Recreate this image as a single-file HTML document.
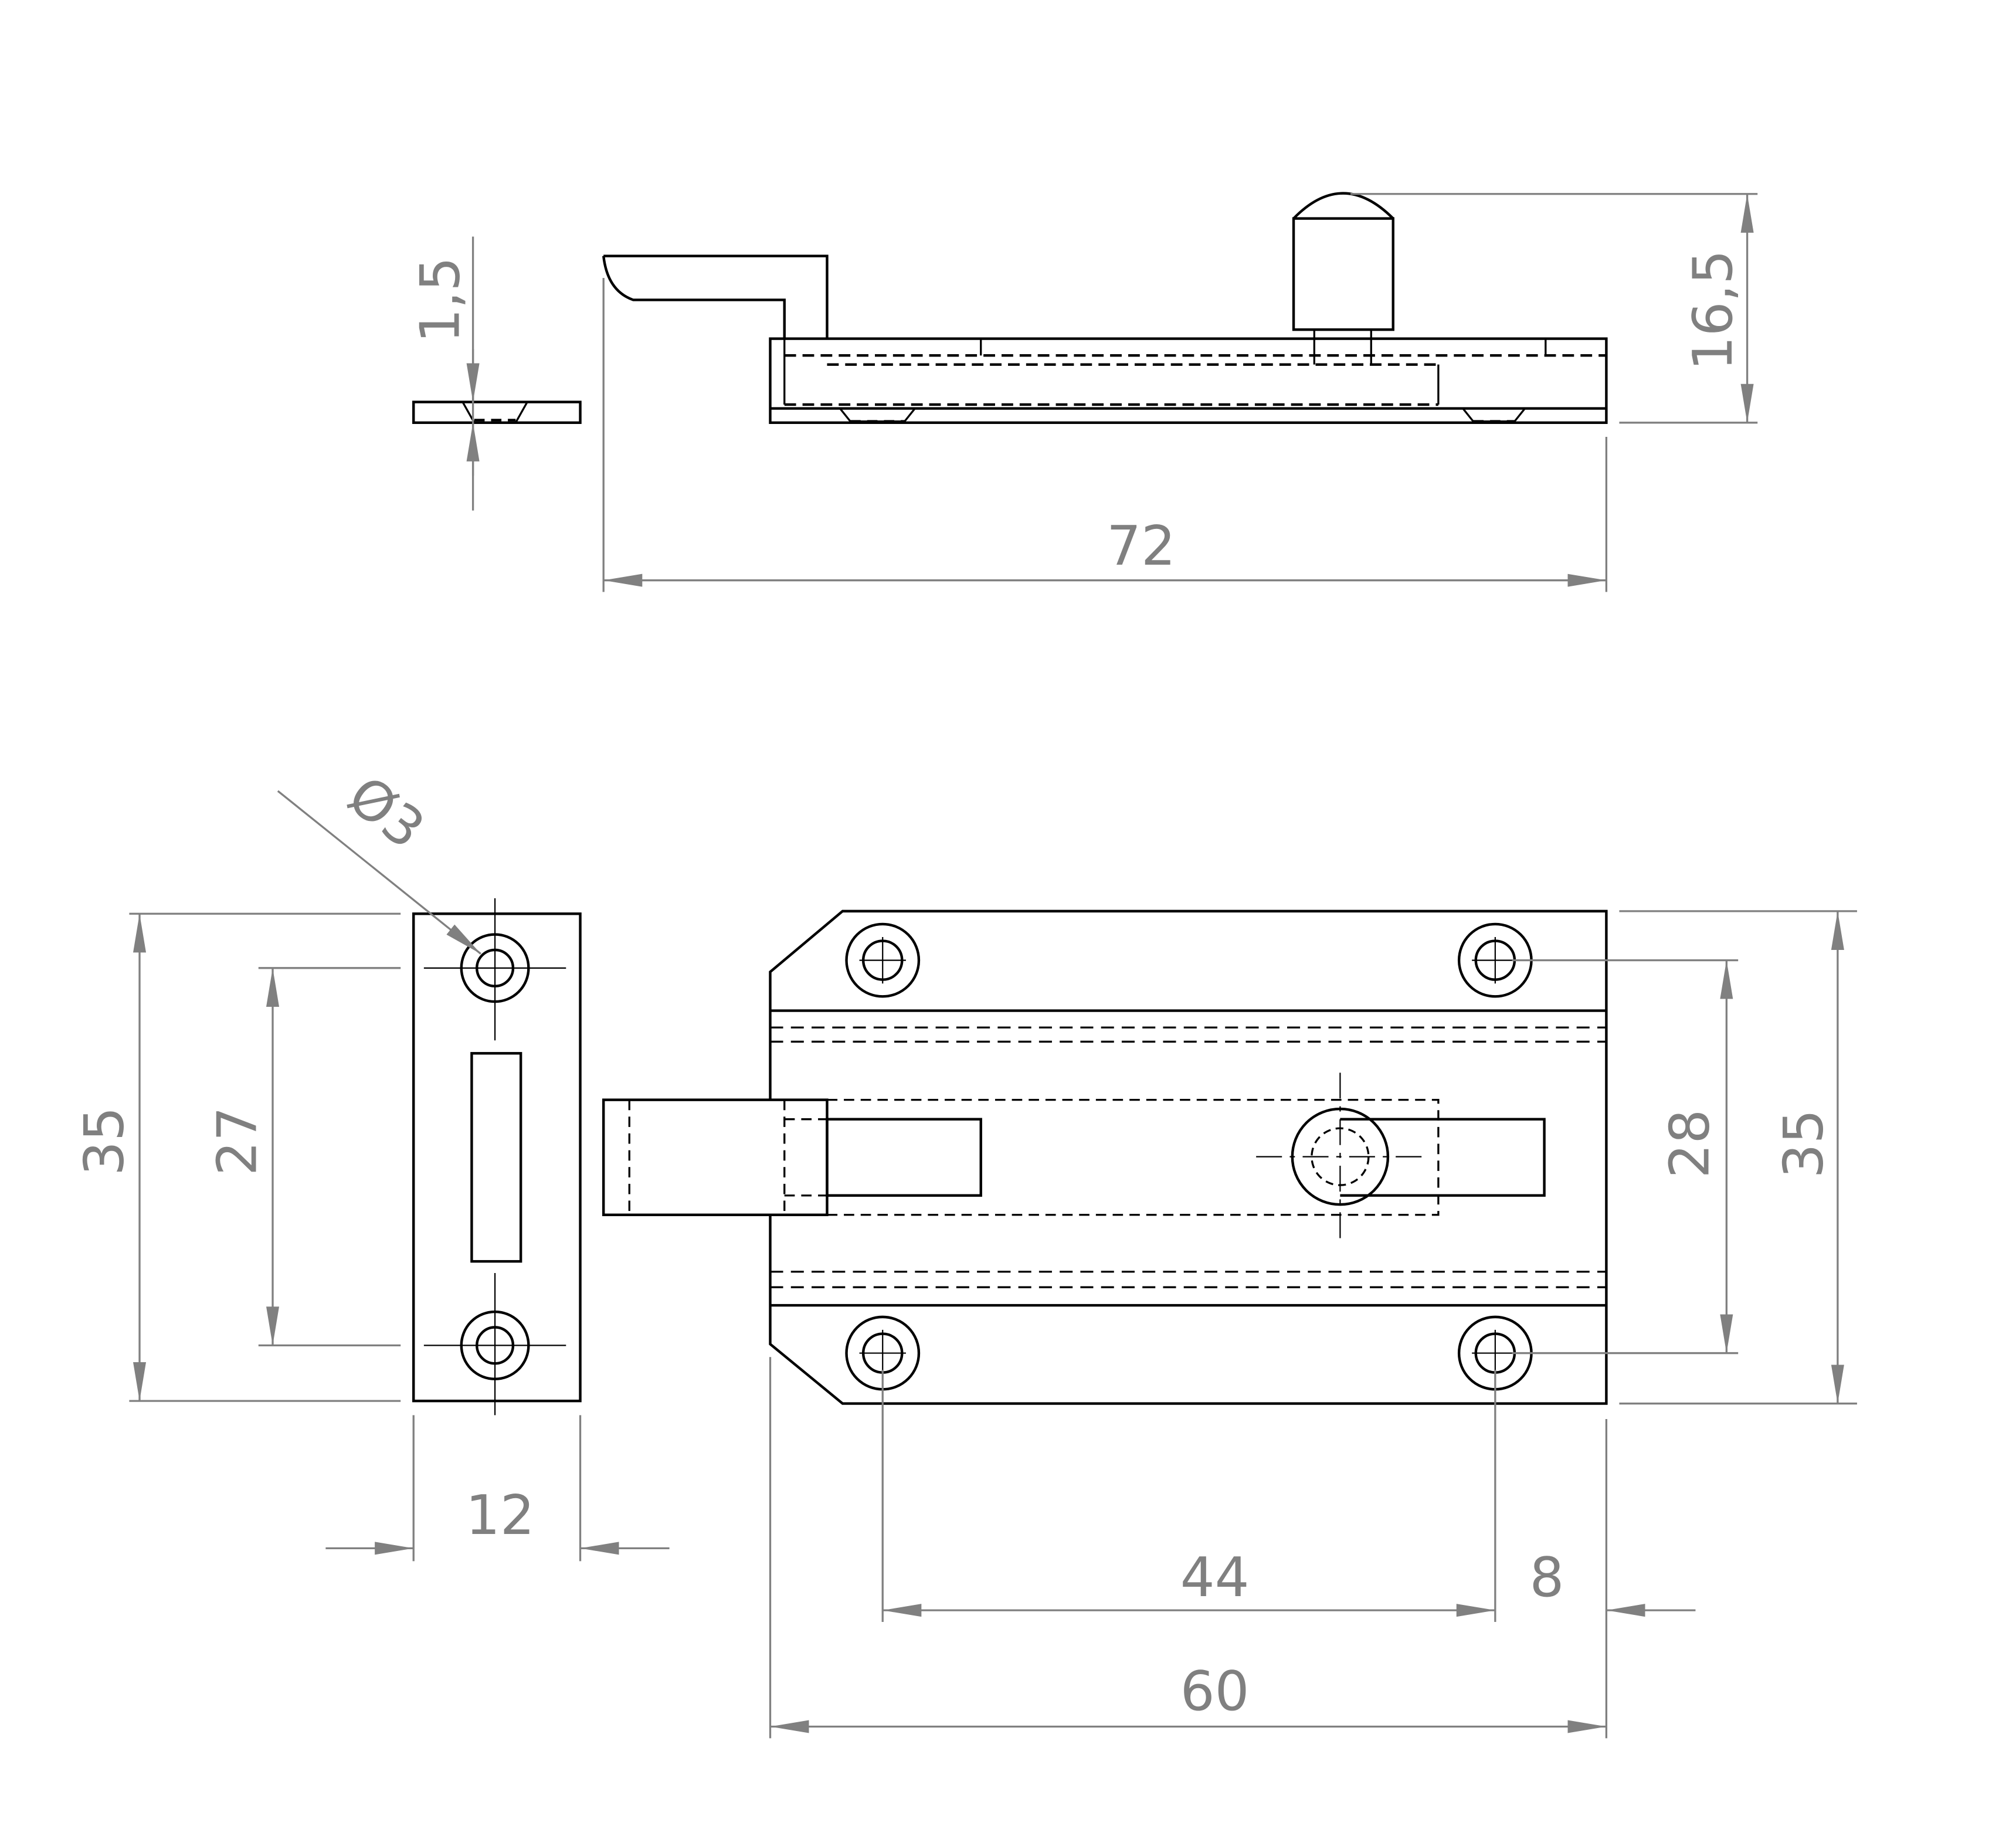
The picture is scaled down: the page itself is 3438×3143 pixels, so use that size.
<!DOCTYPE html>
<html><head><meta charset="utf-8"><style>
html,body{margin:0;padding:0;background:#fff;}
svg{display:block;}
text{font-family:"DejaVu Sans","Liberation Sans",sans-serif;fill:#808080;font-size:42px;}
</style></head><body>
<svg width="3438" height="3143" viewBox="0 0 1560 1426" xmlns="http://www.w3.org/2000/svg">
<defs>
<marker id="a" viewBox="0 0 30 10" refX="30" refY="5" markerWidth="30" markerHeight="10" markerUnits="userSpaceOnUse" orient="auto-start-reverse"><path d="M0,0 L30,5 L0,10 z" fill="#808080"/></marker>
</defs>
<g fill="none" stroke="#000" stroke-width="2">
<!-- small plate side -->
<rect x="320" y="311" width="129" height="16"/>
<path d="M358,311 L367,327 M408,311 L399,327" stroke-width="1.5"/>
<path d="M367,325 L399,325" stroke-dasharray="8,5"/>
<!-- hook -->
<path d="M467,198 L640,198 L640,262 M607,262 L607,232 L490,232 Q470,225 467,198"/>
<!-- base side -->
<rect x="596" y="262" width="647" height="65"/>
<line x1="596" y1="316" x2="1243" y2="316"/>
<path d="M607,275 L1243,275 M640,282 L1113,282 M607,313 L1113,313" stroke-dasharray="9,5"/>
<path d="M1113,282 L1113,313 M607,262 L607,313 M759,262 L759,275 M1196,262 L1196,275 M1017,255 L1017,282 M1061,255 L1061,282" stroke-width="1.5"/>
<path d="M650,316 L658,326 L700,326 L708,316 M1132,316 L1140,326 L1172,326 L1180,316" stroke-width="1.5"/>
<path d="M658,326 L700,326 M1140,326 L1172,326" stroke-dasharray="8,5"/>
<rect x="1001" y="169" width="77" height="86"/>
<path d="M1001,169 Q1039,130 1078,169"/>
<!-- strike plate front -->
<rect x="320" y="707" width="129" height="377"/>
<circle cx="383" cy="749" r="26"/><circle cx="383" cy="749" r="14"/>
<circle cx="383" cy="1041" r="26"/><circle cx="383" cy="1041" r="14"/>
<rect x="365" y="815" width="38" height="161"/>
<path d="M383,695 V805 M328,749 H438 M383,985 V1095 M328,1041 H438" stroke-width="1"/>
<!-- base front -->
<path d="M652,705 L1243,705 L1243,1086 L652,1086 L596,1040 L596,752 Z"/>
<path d="M596,782 H1243 M596,1010 H1243"/>
<path d="M596,795 H1243 M596,806 H1243 M596,984 H1243 M596,996 H1243" stroke-dasharray="10,6" stroke-width="1.5"/>
<circle cx="683" cy="743" r="28"/><circle cx="683" cy="743" r="15"/>
<circle cx="1157" cy="743" r="28"/><circle cx="1157" cy="743" r="15"/>
<circle cx="683" cy="1047" r="28"/><circle cx="683" cy="1047" r="15"/>
<circle cx="1157" cy="1047" r="28"/><circle cx="1157" cy="1047" r="15"/>
<path d="M683,725 V761 M665,743 H701 M1157,725 V761 M1139,743 H1175 M683,1029 V1065 M665,1047 H701 M1157,1029 V1065 M1139,1047 H1175" stroke-width="1"/>
<!-- bolt -->
<rect x="467" y="851" width="173" height="89" fill="#fff"/>
<path d="M487,851 V940 M607,851 V940 M607,866 H640 M607,925 H640 M640,851 H1113 V940 H640" stroke-dasharray="8,5" stroke-width="1.5"/>
<rect x="640" y="866" width="119" height="59"/>
<path d="M1037,866 H1195 V925 H1037"/>
<circle cx="1037" cy="895" r="37" fill="none"/>
<circle cx="1037" cy="895" r="22" stroke-dasharray="6,4" stroke-width="1.5"/>
<path d="M1037,830 V962 M972,895 H1102" stroke-dasharray="20,6,4,6" stroke-width="1"/>
</g>
<g fill="none" stroke="#808080" stroke-width="1.5">
<!-- 1,5 -->
<line x1="366" y1="183" x2="366" y2="395"/>
<line x1="366" y1="270" x2="366" y2="311" marker-end="url(#a)"/>
<line x1="366" y1="368" x2="366" y2="327" marker-end="url(#a)"/>
<!-- 16,5 -->
<path d="M1045,150 H1360 M1253,327 H1360"/>
<line x1="1352" y1="150" x2="1352" y2="327" marker-start="url(#a)" marker-end="url(#a)"/>
<!-- 72 -->
<path d="M467,215 V458 M1243,338 V458"/>
<line x1="467" y1="449" x2="1243" y2="449" marker-start="url(#a)" marker-end="url(#a)"/>
<!-- left 35/27 -->
<path d="M100,707 H310 M100,1084 H310 M200,749 H310 M200,1041 H310"/>
<line x1="108" y1="707" x2="108" y2="1084" marker-start="url(#a)" marker-end="url(#a)"/>
<line x1="211" y1="749" x2="211" y2="1041" marker-start="url(#a)" marker-end="url(#a)"/>
<!-- 12 -->
<path d="M320,1095 V1208 M449,1095 V1208"/>
<line x1="252" y1="1198" x2="320" y2="1198" marker-end="url(#a)"/>
<line x1="518" y1="1198" x2="449" y2="1198" marker-end="url(#a)"/>
<!-- dia leader -->
<line x1="215" y1="612" x2="372" y2="738" marker-end="url(#a)"/>
<!-- right 28/35 -->
<path d="M1170,743 H1345 M1170,1047 H1345 M1253,705 H1437 M1253,1086 H1437"/>
<line x1="1336" y1="743" x2="1336" y2="1047" marker-start="url(#a)" marker-end="url(#a)"/>
<line x1="1422" y1="705" x2="1422" y2="1086" marker-start="url(#a)" marker-end="url(#a)"/>
<!-- bottom 44/8/60 -->
<path d="M683,1060 V1255 M1157,1060 V1255 M1243,1098 V1345 M596,1050 V1345"/>
<line x1="683" y1="1246" x2="1157" y2="1246" marker-start="url(#a)" marker-end="url(#a)"/>
<line x1="1312" y1="1246" x2="1243" y2="1246" marker-end="url(#a)"/>
<line x1="596" y1="1336" x2="1243" y2="1336" marker-start="url(#a)" marker-end="url(#a)"/>
</g>
<text x="883" y="437" text-anchor="middle">72</text>
<text transform="translate(355,232) rotate(-90)" text-anchor="middle">1,5</text>
<text transform="translate(1340,240) rotate(-90)" text-anchor="middle">16,5</text>
<text transform="translate(95,883) rotate(-90)" text-anchor="middle">35</text>
<text transform="translate(198,883) rotate(-90)" text-anchor="middle">27</text>
<text transform="translate(1322,885) rotate(-90)" text-anchor="middle">28</text>
<text transform="translate(1410,885) rotate(-90)" text-anchor="middle">35</text>
<text x="387" y="1187" text-anchor="middle">12</text>
<text x="940" y="1235" text-anchor="middle">44</text>
<text x="1197" y="1235" text-anchor="middle">8</text>
<text x="940" y="1323" text-anchor="middle">60</text>
<text transform="translate(290,640) rotate(38)" text-anchor="middle">Ø3</text>
</svg>
</body></html>
